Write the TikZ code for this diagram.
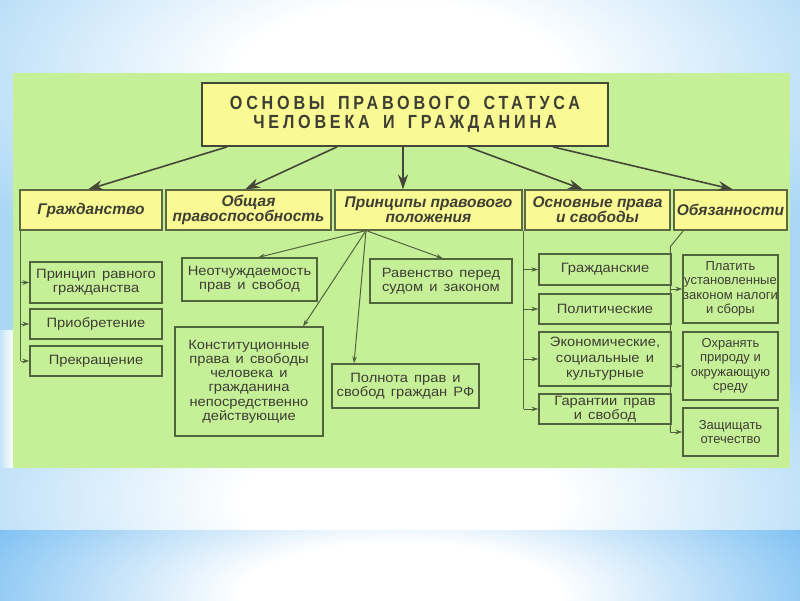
\documentclass[tikz,border=0pt]{standalone}
\usepackage{fontspec}
\setmainfont{Liberation Sans}
\newfontfamily\titlefont{Liberation Sans}[FakeStretch=0.85,LetterSpace=20,WordSpace=1.6]
\newfontfamily\headfont{Liberation Sans}
\newfontfamily\lowfont{Liberation Sans}[FakeStretch=1.09,WordSpace=1.5]
\newfontfamily\narrowfont{Liberation Sans}
\usetikzlibrary{arrows.meta}
\definecolor{panel}{RGB}{198,240,152}
\definecolor{ybox}{RGB}{250,250,148}
\definecolor{bord}{RGB}{68,70,55}
\definecolor{hbord}{RGB}{95,105,65}
\definecolor{gbord}{RGB}{80,100,62}
\definecolor{txt}{RGB}{62,62,52}
\definecolor{skyb}{RGB}{170,215,246}
\definecolor{skyc}{RGB}{105,182,240}
\pgfdeclareradialshading{skytop}{\pgfpoint{0bp}{0bp}}{color(0bp)=(white); color(8bp)=(white); color(25bp)=(skyb); color(50bp)=(skyb)}
\pgfdeclareradialshading{skybot}{\pgfpoint{0bp}{0bp}}{color(0bp)=(white); color(8bp)=(white); color(25bp)=(skyc); color(50bp)=(skyc)}
\begin{document}
\begin{tikzpicture}[x=1pt,y=-1pt,
  titlebox/.style={draw=bord,line width=1.8pt,fill=ybox,inner sep=0pt,align=center,text=txt,
    font=\titlefont\bfseries\fontsize{19}{19}\selectfont},
  headbox/.style={draw=hbord,line width=1.1pt,fill=ybox,inner sep=0pt,align=center,text=txt,
    minimum height=40pt,font=\headfont\bfseries\itshape\fontsize{15.5}{15.2}\selectfont},
  lowbox/.style={draw=gbord,line width=1.1pt,fill=panel,inner sep=0pt,align=center,text=txt,
    font=\lowfont\fontsize{13.5}{14.2}\selectfont},
  dbox/.style={lowbox,minimum width=95pt,font=\narrowfont\fontsize{13}{14.5}\selectfont},
  bigarrow/.style={draw=bord,line width=1.6pt,-{Stealth[length=15pt,width=10pt]}},
  smallarrow/.style={draw=gbord,line width=1pt,-{Stealth[length=7pt,width=4.5pt]}},
  branch/.style={draw=gbord,line width=1pt}]
\useasboundingbox (0,0) rectangle (800,600);
\begin{scope}
\clip (0,0) rectangle (800,600);
\fill[skyb] (0,0) rectangle (800,600);
\shade[shading=skytop] (-100,-150) rectangle (900,300);
\begin{scope}
\clip (0,300) rectangle (800,530);
\shade[shading=skytop] (-100,300) rectangle (900,700);
\end{scope}
\shade[left color=skyb!70,right color=white] (0,330) rectangle (13,467);
\begin{scope}
\clip (0,530) rectangle (800,600);
\shade[shading=skybot] (-100,430) rectangle (900,760);
\end{scope}
\end{scope}
\fill[panel] (13,73) rectangle (790,468);

% title
\node[titlebox,minimum width=406pt,minimum height=63pt] (title) at (405,114.5)
  {ОСНОВЫ ПРАВОВОГО СТАТУСА\\ЧЕЛОВЕКА И ГРАЖДАНИНА};

% first row
\node[headbox,minimum width=142pt] (r1) at (91,210) {Гражданство};
\node[headbox,minimum width=165pt] (r2) at (248.5,210) {Общая\\правоспособность};
\node[headbox,minimum width=187pt] (r3) at (428.5,210) {Принципы правового\\положения};
\node[headbox,minimum width=145pt] (r4) at (597.5,210) {Основные права\\и свободы};
\node[headbox,minimum width=113pt] (r5) at (730.5,210) {Обязанности};

\draw[bigarrow] ([xshift=-178pt]title.south) -- ([xshift=-3pt]r1.north);
\draw[bigarrow] ([xshift=-68pt]title.south) -- ([xshift=-3.5pt]r2.north);
\draw[bigarrow] ([xshift=-2pt]title.south) -- ([xshift=-25.5pt]r3.north);
\draw[bigarrow] ([xshift=63pt]title.south) -- ([xshift=-14.5pt]r4.north);
\draw[bigarrow] ([xshift=148pt]title.south) -- ([xshift=2.5pt]r5.north);

% Гражданство
\node[lowbox,minimum width=132pt,minimum height=41pt] (a1) at (96,282.5) {Принцип равного\\гражданства};
\node[lowbox,minimum width=132pt,minimum height=30pt] (a2) at (96,324) {Приобретение};
\node[lowbox,minimum width=132pt,minimum height=30pt] (a3) at (96,361) {Прекращение};
\coordinate (g) at ([xshift=1.5pt]r1.south west);
\draw[branch] (g) -- (g |- a3.west);
\draw[smallarrow] (g |- a1.west) -- (a1.west);
\draw[smallarrow] (g |- a2.west) -- (a2.west);
\draw[smallarrow] (g |- a3.west) -- (a3.west);

% Принципы
\node[lowbox,minimum width=135pt,minimum height=43pt] (p1) at (249.5,279.5) {Неотчуждаемость\\прав и свобод};
\node[lowbox,minimum width=148pt,minimum height=109pt] (p2) at (249,381.5)
  {Конституционные\\права и свободы\\человека и\\гражданина\\непосредственно\\действующие};
\node[lowbox,minimum width=147pt,minimum height=44pt] (p3) at (405.5,386) {Полнота прав и\\свобод граждан РФ};
\node[lowbox,minimum width=142pt,minimum height=44pt] (p4) at (441,281) {Равенство перед\\судом и законом};
\coordinate (fan) at ([xshift=-62.5pt]r3.south);
\draw[smallarrow] (fan) -- ([xshift=8.5pt]p1.north);
\draw[smallarrow] (fan) -- ([xshift=54pt]p2.north);
\draw[smallarrow] (fan) -- ([xshift=-51.5pt]p3.north);
\draw[smallarrow] (fan) -- ([xshift=2pt]p4.north);

% Основные права
\node[lowbox,minimum width=132pt,minimum height=31pt] (o1) at (605,269.5) {Гражданские};
\node[lowbox,minimum width=132pt,minimum height=30pt] (o2) at (605,309) {Политические};
\node[lowbox,minimum width=132pt,minimum height=54pt,font=\lowfont\fontsize{13.5}{15.5}\selectfont] (o3) at (605,359) {Экономические,\\социальные и\\культурные};
\node[lowbox,minimum width=132pt,minimum height=30pt] (o4) at (605,409) {Гарантии прав\\и свобод};
\coordinate (o) at ([xshift=-0.5pt]r4.south west);
\draw[branch] (o) -- (o |- o4.west);
\draw[smallarrow] (o |- o1.west) -- (o1.west);
\draw[smallarrow] (o |- o2.west) -- (o2.west);
\draw[smallarrow] (o |- o3.west) -- (o3.west);
\draw[smallarrow] (o |- o4.west) -- (o4.west);

% Обязанности
\node[dbox,minimum height=68pt] (d1) at (730.5,289) {Платить\\установленные\\законом налоги\\и сборы};
\node[dbox,minimum height=68pt] (d2) at (730.5,366) {Охранять\\природу и\\окружающую\\среду};
\node[dbox,minimum height=48pt] (d3) at (730.5,432) {Защищать\\отечество};
\coordinate (ob) at ([xshift=10pt]r5.south west);
\coordinate (obk) at ([xshift=-13pt,yshift=-16pt]ob);
\draw[branch] (ob) -- (obk) -- (obk |- d3.west);
\draw[smallarrow] (obk |- d1.west) -- (d1.west);
\draw[smallarrow] (obk |- d2.west) -- (d2.west);
\draw[smallarrow] (obk |- d3.west) -- (d3.west);
\end{tikzpicture}
\end{document}
